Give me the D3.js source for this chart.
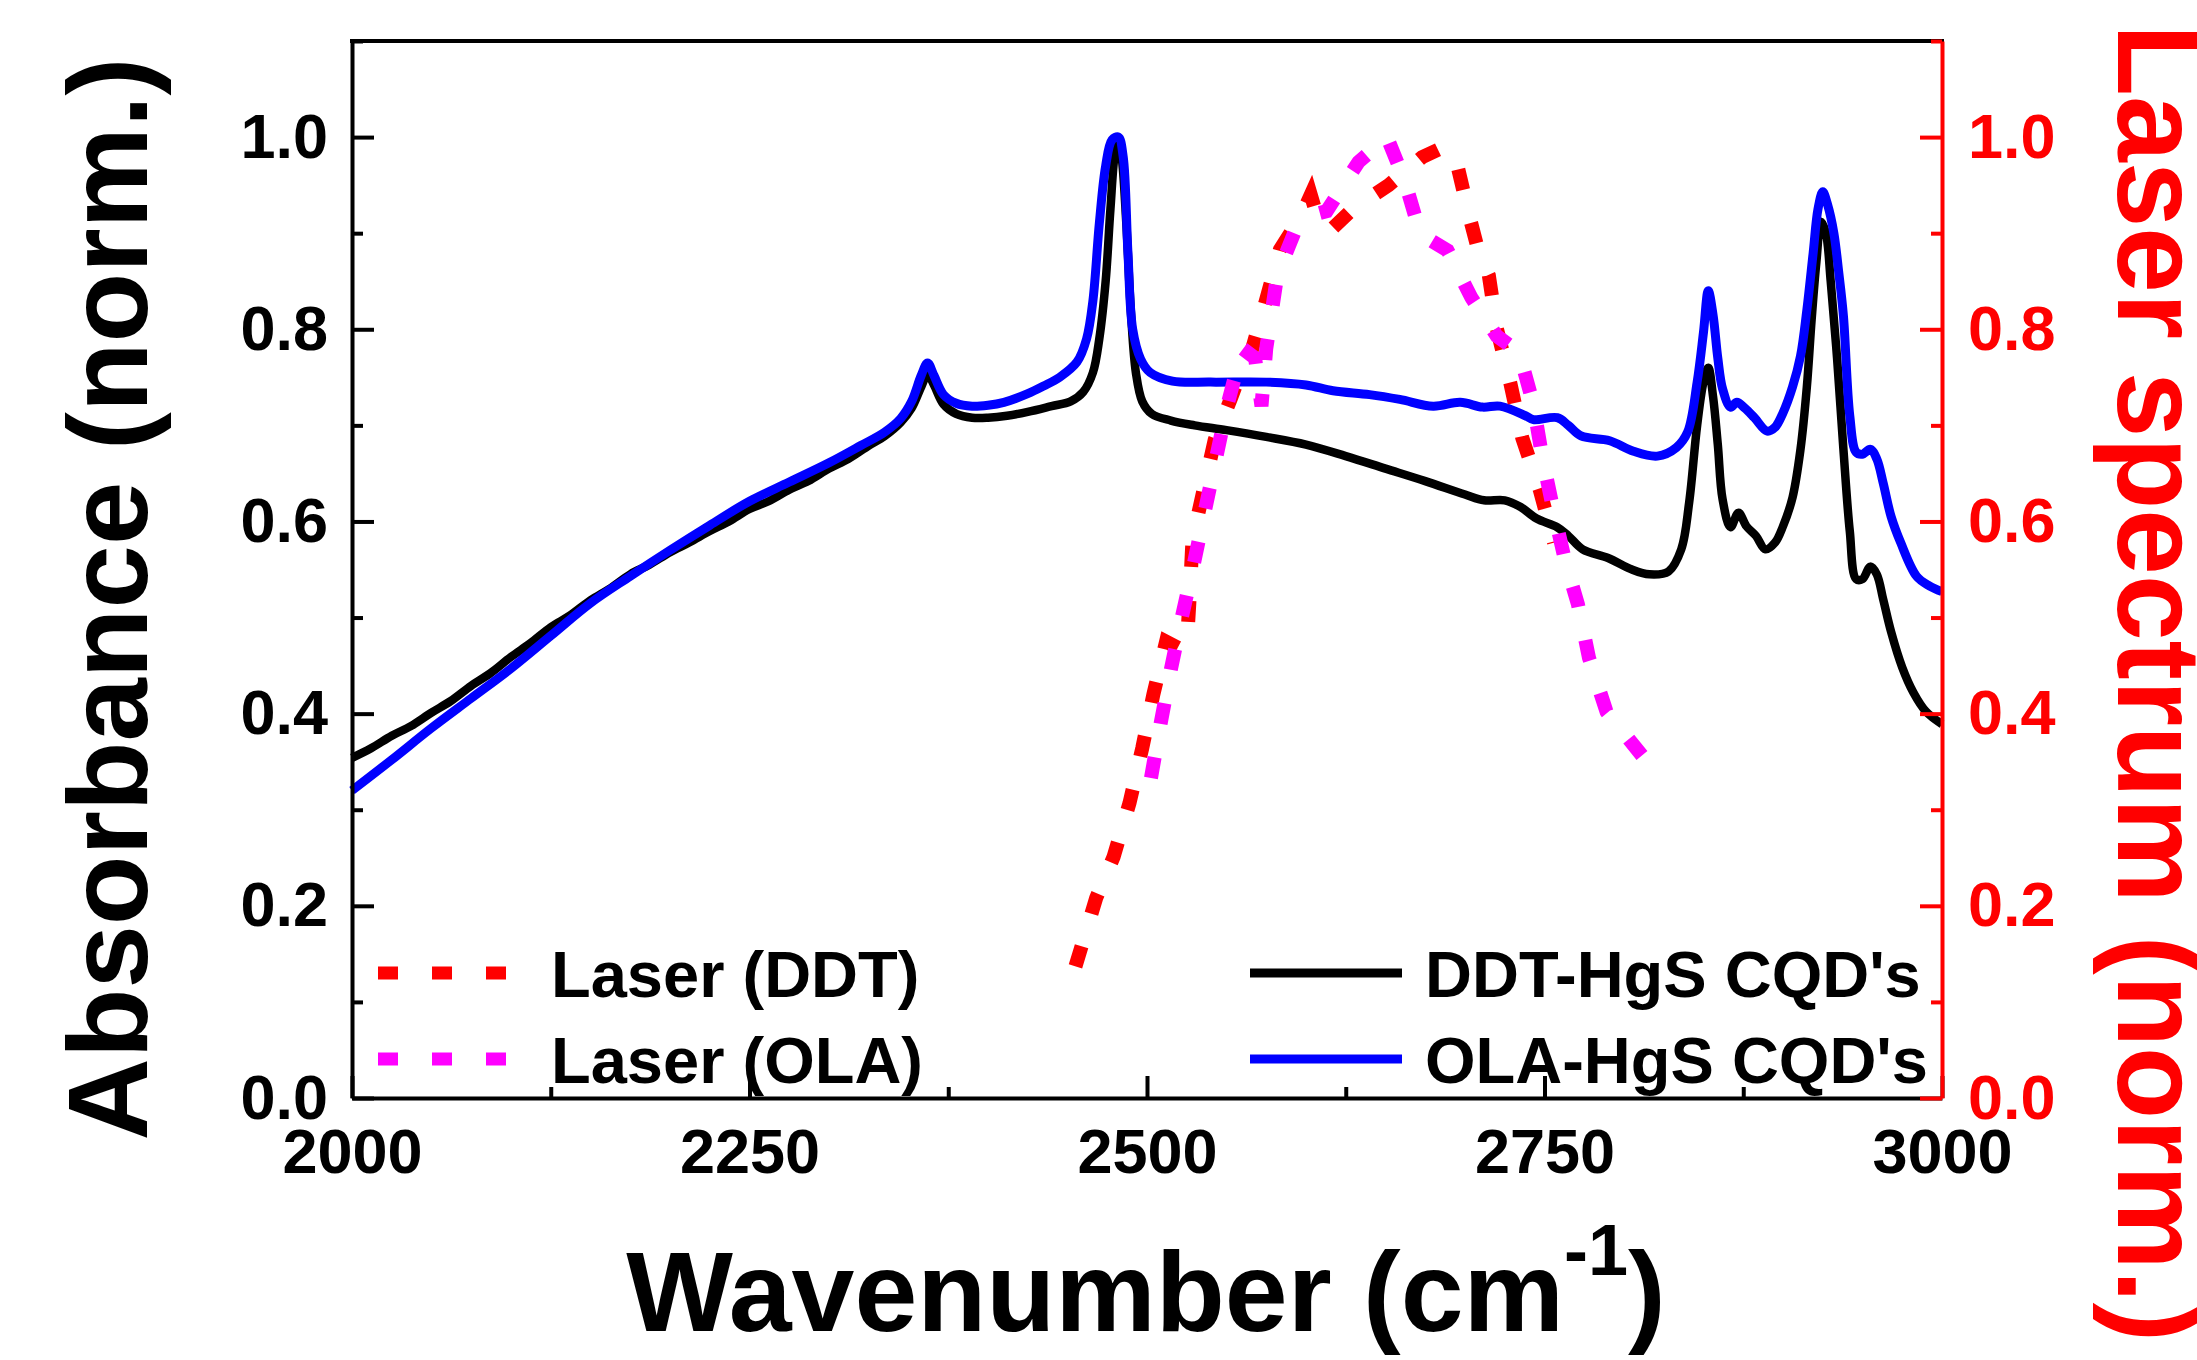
<!DOCTYPE html>
<html><head><meta charset="utf-8">
<script src="https://cdn.jsdelivr.net/npm/d3@7"></script>
<style>
html,body{margin:0;padding:0;background:#fff;}
svg{display:block;}
text{font-family:"Liberation Sans",Arial,Helvetica,sans-serif;font-weight:bold;}
</style></head><body>
<svg id="chart" width="2197" height="1360"></svg>
<script>
// ---- Data ----
const ddtWn  = [2000,2012,2025,2037,2050,2062,2075,2087,2100,2112,2125,2137,2150,2162,2175,2187,2200,2212,2225,2237,2250,2262,2275,2287,2300,2312,2325,2335,2345,2352,2358,2362,2366,2372,2380,2390,2400,2412,2425,2440,2452,2460,2466,2470,2474,2477,2480,2482,2484,2487,2490,2493,2497,2503,2515,2530,2550,2575,2600,2625,2650,2675,2700,2712,2725,2735,2745,2758,2765,2774,2790,2805,2816,2828,2836,2841,2846,2850,2853,2856,2859,2862,2867,2872,2877,2883,2889,2895,2900,2906,2911,2915,2918,2921,2924,2927,2930,2934,2938,2942,2946,2950,2955,2959,2963,2968,2975,2982,2990,3000];
const ddtAbs = [0.354,0.364,0.377,0.387,0.401,0.413,0.429,0.442,0.459,0.473,0.490,0.502,0.518,0.530,0.545,0.555,0.568,0.578,0.590,0.600,0.613,0.621,0.633,0.642,0.655,0.665,0.679,0.689,0.703,0.718,0.740,0.753,0.742,0.722,0.712,0.708,0.708,0.710,0.714,0.720,0.725,0.735,0.755,0.790,0.850,0.925,0.985,0.995,0.980,0.910,0.815,0.755,0.725,0.712,0.705,0.700,0.695,0.688,0.680,0.668,0.655,0.642,0.628,0.622,0.622,0.615,0.603,0.594,0.585,0.571,0.562,0.550,0.545,0.548,0.571,0.620,0.700,0.745,0.760,0.730,0.680,0.623,0.594,0.609,0.595,0.585,0.571,0.578,0.595,0.625,0.675,0.740,0.810,0.870,0.912,0.900,0.850,0.770,0.675,0.590,0.540,0.540,0.553,0.545,0.519,0.485,0.448,0.422,0.402,0.389];

const olaWn  = [2000,2025,2050,2075,2100,2125,2150,2175,2200,2225,2250,2275,2300,2320,2335,2345,2352,2358,2362,2366,2372,2380,2390,2400,2410,2425,2435,2445,2456,2462,2466,2470,2474,2478,2482,2485,2488,2491,2496,2502,2516,2540,2575,2600,2617,2640,2659,2680,2697,2711,2722,2738,2743,2758,2765,2773,2791,2806,2821,2833,2840,2846,2850,2853,2856,2859,2862,2867,2871,2876,2882,2890,2895,2900,2906,2911,2915,2919,2922,2925,2928,2932,2935,2938,2942,2946,2950,2955,2959,2963,2968,2974,2984,2992,3000];
const olaAbs = [0.320,0.352,0.385,0.416,0.447,0.481,0.515,0.543,0.570,0.596,0.621,0.641,0.661,0.679,0.693,0.707,0.725,0.752,0.765,0.752,0.732,0.723,0.720,0.721,0.724,0.733,0.741,0.750,0.766,0.790,0.830,0.910,0.970,0.997,1.000,0.980,0.880,0.800,0.769,0.755,0.746,0.745,0.745,0.742,0.736,0.732,0.727,0.720,0.724,0.719,0.720,0.710,0.706,0.708,0.700,0.689,0.684,0.673,0.668,0.677,0.693,0.745,0.797,0.840,0.815,0.770,0.738,0.719,0.724,0.718,0.708,0.694,0.698,0.713,0.740,0.772,0.820,0.880,0.925,0.943,0.930,0.900,0.860,0.814,0.710,0.672,0.670,0.675,0.665,0.640,0.605,0.578,0.543,0.533,0.527];

const laserDdtWn  = [2455,2462,2468,2479,2489,2497,2504,2512,2520,2525,2527,2528.6,2535.6,2542.6,2553,2560,2565,2575,2583.6,2597,2603,2608,2616,2630,2652,2673,2687,2695,2703,2709,2715,2720,2728.5,2736,2747,2756];
const laserDdtVal = [0.137,0.175,0.208,0.251,0.307,0.364,0.420,0.475,0.468,0.470,0.526,0.581,0.633,0.685,0.729,0.760,0.773,0.831,0.883,0.918,0.940,0.912,0.904,0.926,0.950,0.979,0.990,0.972,0.916,0.878,0.856,0.801,0.744,0.687,0.633,0.578];

const laserOlaWn  = [2502.5,2508.6,2515,2522,2529.6,2536.6,2543.7,2550.7,2560,2568,2572,2575,2582,2593,2602,2613,2633,2651,2662,2672,2689,2704,2720,2734,2743,2748.7,2756,2763,2771,2778,2789,2813];
const laserOlaVal = [0.333,0.390,0.446,0.501,0.557,0.6125,0.668,0.722,0.780,0.770,0.720,0.780,0.857,0.902,0.918,0.923,0.974,1.000,0.955,0.899,0.882,0.833,0.793,0.776,0.722,0.666,0.609,0.559,0.514,0.458,0.402,0.353];

const xTicks = [2000,2250,2500,2750,3000];
const xMinorTicks = [2125,2375,2625,2875];
const yTicks = [0.0,0.2,0.4,0.6,0.8,1.0];
const yMinorTicks = [0.1,0.3,0.5,0.7,0.9,1.1];
const legendLeftLabels = ["Laser (DDT)","Laser (OLA)"];
const legendRightLabels = ["DDT-HgS CQD's","OLA-HgS CQD's"];

// ---- Layout ----
const L = 352, R = 1942, T = 41, B = 1098;
const svg = d3.select("#chart");
const x = d3.scaleLinear().domain([2000,3000]).range([L,R]);
const y = d3.scaleLinear().domain([0,1.1]).range([B,T]);
const yR = d3.scaleLinear().domain([0,1.1]).range([B,T]);

const zip = (a,b) => a.map((v,i)=>[v,b[i]]);

const specLine = d3.line().x(d=>x(d[0])).y(d=>y(d[1])).curve(d3.curveCatmullRom.alpha(0.5));
const laserLine = d3.line().x(d=>x(d[0])).y(d=>yR(d[1])).curve(d3.curveLinear);

const plot = svg.append("g");
plot.append("path").attr("d", specLine(zip(ddtWn, ddtAbs)))
  .attr("fill","none").attr("stroke","#000").attr("stroke-width",8.5).attr("stroke-linejoin","round");
plot.append("path").attr("d", specLine(zip(olaWn, olaAbs)))
  .attr("fill","none").attr("stroke","#0000ff").attr("stroke-width",9).attr("stroke-linejoin","round");
plot.append("path").attr("d", laserLine(zip(laserDdtWn, laserDdtVal)))
  .attr("fill","none").attr("stroke","#ff0000").attr("stroke-width",14).attr("stroke-dasharray","21,34");
plot.append("path").attr("d", laserLine(zip(laserOlaWn, laserOlaVal)))
  .attr("fill","none").attr("stroke","#ff00ff").attr("stroke-width",14).attr("stroke-dasharray","21,34");

// ---- Axes ----
function styleAxis(g, color){
  g.attr("color", color);
  g.selectAll("path.domain").attr("stroke-width",4);
  g.selectAll(".tick line").attr("stroke-width",4);
  g.selectAll("text").attr("font-size",63).attr("font-weight","bold")
   .attr("font-family",'"Liberation Sans",Arial,sans-serif').attr("fill",color);
}
// bottom
const gxMinor = svg.append("g").attr("transform",`translate(0,${B})`)
  .call(d3.axisBottom(x).tickValues(xMinorTicks).tickSize(-11).tickSizeOuter(0).tickFormat(""));
gxMinor.select(".domain").remove(); styleAxis(gxMinor,"#000");
const gx = svg.append("g").attr("transform",`translate(0,${B})`)
  .call(d3.axisBottom(x).tickValues(xTicks).tickSize(-22).tickSizeOuter(0).tickFormat(d3.format("d")));
styleAxis(gx,"#000");
gx.selectAll("text").attr("y",75).attr("dy",null);
// top border
svg.append("line").attr("x1",L).attr("x2",R).attr("y1",T).attr("y2",T)
  .attr("stroke","#000").attr("stroke-width",4).attr("stroke-linecap","square");
// left
const gyMinor = svg.append("g").attr("transform",`translate(${L},0)`)
  .call(d3.axisLeft(y).tickValues(yMinorTicks).tickSize(-11).tickSizeOuter(0).tickFormat(""));
gyMinor.select(".domain").remove(); styleAxis(gyMinor,"#000");
const gy = svg.append("g").attr("transform",`translate(${L},0)`)
  .call(d3.axisLeft(y).tickValues(yTicks).tickSize(-22).tickSizeOuter(0).tickFormat(d3.format(".1f")));
styleAxis(gy,"#000");
gy.selectAll("text").attr("x",-24).attr("y",20).attr("dy",null);
// right
const gyRMinor = svg.append("g").attr("transform",`translate(${R},0)`)
  .call(d3.axisRight(yR).tickValues(yMinorTicks).tickSize(-11).tickSizeOuter(0).tickFormat(""));
gyRMinor.select(".domain").remove(); styleAxis(gyRMinor,"#ff0000");
const gyR = svg.append("g").attr("transform",`translate(${R},0)`)
  .call(d3.axisRight(yR).tickValues(yTicks).tickSize(-22).tickSizeOuter(0).tickFormat(d3.format(".1f")));
styleAxis(gyR,"#ff0000");
gyR.selectAll("text").attr("x",26).attr("y",20).attr("dy",null);

// ---- Axis titles ----
const xt = svg.append("text").attr("x",1146).attr("y",1331).attr("text-anchor","middle")
  .attr("font-size",113).attr("fill","#000");
xt.append("tspan").text("Wavenumber (cm");
xt.append("tspan").attr("font-size",72).attr("dy",-56).text("-1");
xt.append("tspan").attr("dy",56).text(")");

svg.append("text").attr("transform","translate(147,599) rotate(-90)").attr("text-anchor","middle")
  .attr("font-size",114).attr("fill","#000").text("Absorbance (norm.)");
svg.append("text").attr("transform","translate(2118,683) rotate(90)").attr("text-anchor","middle")
  .attr("font-size",118).attr("fill","#ff0000").text("Laser spectrum (norm.)");

// ---- Legends ----
const legRows = [973, 1059];
const lgLeftColors = ["#ff0000","#ff00ff"];
const lgRightColors = ["#000000","#0000ff"];
legendLeftLabels.forEach((lab,i)=>{
  svg.append("line").attr("x1",378).attr("x2",507).attr("y1",legRows[i]).attr("y2",legRows[i])
    .attr("stroke",lgLeftColors[i]).attr("stroke-width",13).attr("stroke-dasharray","20,34");
  svg.append("text").attr("x",551).attr("y",legRows[i]+24).attr("font-size",65).attr("fill","#000").text(lab);
});
legendRightLabels.forEach((lab,i)=>{
  svg.append("line").attr("x1",1250).attr("x2",1402).attr("y1",legRows[i]).attr("y2",legRows[i])
    .attr("stroke",lgRightColors[i]).attr("stroke-width",9);
  svg.append("text").attr("x",1425).attr("y",legRows[i]+24).attr("font-size",65).attr("fill","#000").text(lab);
});
</script>
</body></html>
